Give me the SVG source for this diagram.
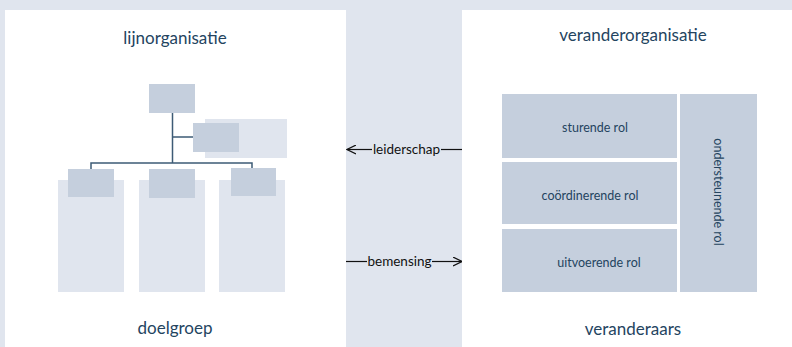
<svg xmlns="http://www.w3.org/2000/svg" width="792" height="347" viewBox="0 0 792 347">
<style>
.bg{fill:#e0e5ee}
.panel{fill:#ffffff}
.box{fill:#c5cfdd}
.col{fill:#e0e5ee}
.title{font-family:"Lato","Liberation Sans",sans-serif;font-size:17px;fill:#24445f;text-anchor:middle}
.role{font-family:"Lato","Liberation Sans",sans-serif;font-size:12.5px;fill:#24445f;text-anchor:middle}
.lbl{font-family:"Lato","Liberation Sans",sans-serif;font-size:13.5px;fill:#111111;text-anchor:middle}
.org{stroke:#3d5b76;stroke-width:1.5;fill:none}
.arr{stroke:#111111;stroke-width:1.2;fill:none}
</style>
<defs>
<marker id="ah" viewBox="0 0 10 10" refX="9" refY="5" markerWidth="10" markerHeight="10" markerUnits="userSpaceOnUse" orient="auto">
<path d="M0,0.5 L9,5 L0,9.5" fill="none" stroke="#111111" stroke-width="1.2"/>
</marker>
</defs>
<rect class="bg" x="0" y="0" width="792" height="347"/>
<g id="lijnorganisatie">
<rect class="panel" x="5" y="10" width="341" height="337"/>
<text class="title" x="175" y="44">lijnorganisatie</text>
<text class="title" x="175" y="334">doelgroep</text>
</g>
<g id="doelgroep-kolommen">
<rect class="col" x="58" y="180" width="66" height="112"/>
<rect class="col" x="139" y="180" width="66" height="112"/>
<rect class="col" x="219" y="180" width="66" height="112"/>
<rect class="col" x="205" y="119" width="82" height="39"/>
</g>
<g id="connectors">
<path class="org" d="M172.5,113 V163 M172.5,137 H193 M91,169 V163 H252 V168"/>
<line class="arr" x1="372" y1="149.5" x2="347" y2="149.5" marker-end="url(#ah)"/>
<line class="arr" x1="462" y1="149.5" x2="441" y2="149.5"/>
<line class="arr" x1="346" y1="261.5" x2="367" y2="261.5"/>
<line class="arr" x1="432" y1="261.5" x2="462" y2="261.5" marker-end="url(#ah)"/>
</g>
<g id="org-top"><rect class="box" x="149" y="84" width="46" height="29"/></g>
<g id="org-staf"><rect class="box" x="193" y="123" width="46" height="29"/></g>
<g id="org-links"><rect class="box" x="68" y="169" width="46" height="28"/></g>
<g id="org-midden"><rect class="box" x="149" y="169" width="46" height="29"/></g>
<g id="org-rechts"><rect class="box" x="231" y="168" width="45" height="28"/></g>
<g id="label-leiderschap"><text class="lbl" x="406.5" y="154">leiderschap</text></g>
<g id="label-bemensing"><text class="lbl" x="399.5" y="266">bemensing</text></g>
<g id="veranderorganisatie">
<rect class="panel" x="462" y="10" width="330" height="337"/>
<text class="title" x="633" y="41">veranderorganisatie</text>
<text class="title" x="633" y="335">veranderaars</text>
</g>
<g id="sturende-rol">
<rect class="box" x="502" y="94" width="175" height="64"/>
<text class="role" x="595" y="131.5">sturende rol</text>
</g>
<g id="coordinerende-rol">
<rect class="box" x="502" y="162" width="175" height="62"/>
<text class="role" x="590" y="199.5">coördinerende rol</text>
</g>
<g id="uitvoerende-rol">
<rect class="box" x="502" y="229" width="175" height="63"/>
<text class="role" x="599" y="266.5">uitvoerende rol</text>
</g>
<g id="ondersteunende-rol">
<rect class="box" x="680" y="94" width="77" height="198"/>
<text class="role" transform="translate(714,192) rotate(90)" x="0" y="0">ondersteunende rol</text>
</g>
</svg>
